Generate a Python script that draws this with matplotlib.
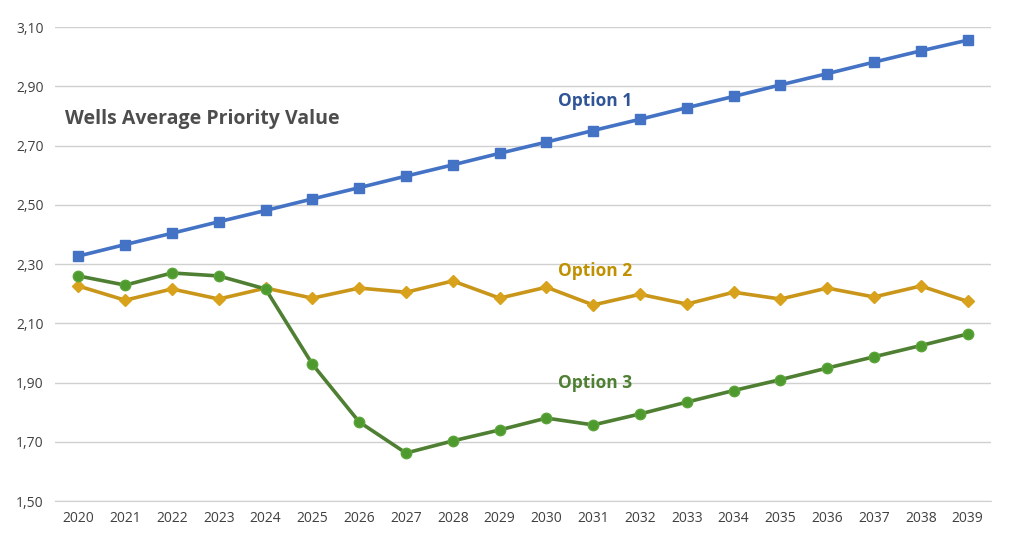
import matplotlib
matplotlib.use("Agg")
import matplotlib.pyplot as plt

years = [str(y) for y in range(2020, 2040)]
option1 = [2.327, 2.366, 2.404, 2.443, 2.481, 2.520, 2.558, 2.597, 2.635, 2.674,
           2.712, 2.751, 2.789, 2.828, 2.866, 2.905, 2.943, 2.982, 3.020, 3.056]
option2 = [2.226, 2.178, 2.216, 2.182, 2.219, 2.185, 2.219, 2.205, 2.243, 2.185,
           2.222, 2.162, 2.198, 2.165, 2.205, 2.182, 2.219, 2.189, 2.226, 2.174]
option3 = [2.260, 2.229, 2.270, 2.260, 2.216, 1.962, 1.767, 1.662, 1.703, 1.740,
           1.780, 1.757, 1.794, 1.834, 1.873, 1.910, 1.949, 1.987, 2.025, 2.064]
yticks = [1.50, 1.70, 1.90, 2.10, 2.30, 2.50, 2.70, 2.90, 3.10]
title = "Wells Average Priority Value"

plt.rcParams['font.family'] = ['Open Sans', 'DejaVu Sans']

fig = plt.figure(figsize=(10.27, 5.43), dpi=100)
ax = fig.add_axes([0.0535, 0.0773, 0.9115, 0.8727])

x = list(range(len(years)))
ax.plot(x, option1, color='#4472C4', lw=2.6, marker='s', ms=7, mfc='#4472C4', mec='#4472C4', zorder=3)
ax.plot(x, option2, color='#C9961A', lw=2.6, marker='D', ms=6, mfc='#D9A21C', mec='#D9A21C', zorder=3)
ax.plot(x, option3, color='#4E7F32', lw=2.6, marker='o', ms=7.5, mfc='#4E9A2E', mec='#5BA53A', zorder=4)

ax.set_xlim(-0.5, len(years) - 0.5)
ax.set_ylim(1.50, 3.10)
ax.set_xticks(x)
ax.set_xticklabels(years)
ax.set_yticks(yticks)
ax.set_yticklabels([f"{v:.2f}".replace('.', ',') for v in yticks])
ax.tick_params(axis='both', length=0, labelsize=10, colors='#404040', pad=8)
ax.tick_params(axis='x', pad=7)
ax.grid(axis='y', color='#D0D0D0', lw=1)
ax.set_axisbelow(True)
for s in ['top', 'right', 'left']:
    ax.spines[s].set_visible(False)
ax.spines['bottom'].set_color('#D0D0D0')

ax.text(-0.28, 2.79, title, fontsize=14, fontweight='bold', color='#4D4D4D', va='center', ha='left')
ax.text(11.05, 2.85, "Option 1", fontsize=12.5, fontweight='bold', color='#2F5597', va='center', ha='center')
ax.text(11.05, 2.276, "Option 2", fontsize=12.5, fontweight='bold', color='#BF9000', va='center', ha='center')
ax.text(11.05, 1.898, "Option 3", fontsize=12.5, fontweight='bold', color='#4E7F32', va='center', ha='center')

fig.savefig("out.png", dpi=100)
